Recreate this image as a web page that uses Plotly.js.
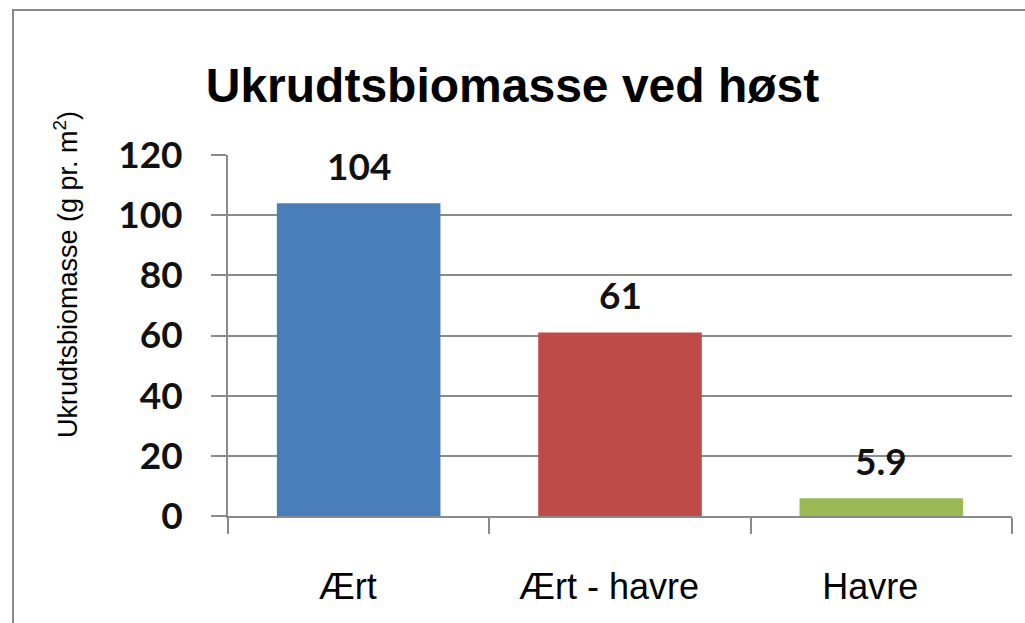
<!DOCTYPE html>
<html>
<head>
<meta charset="utf-8">
<script src="https://cdn.plot.ly/plotly-3.0.1.min.js"></script>
<style>
html,body{margin:0;padding:0;background:#fff;}
#wrap{position:relative;width:1025px;height:623px;}
#chart{position:absolute;left:0;top:0;width:1025px;height:623px;}
#frame{position:absolute;left:12px;top:9px;width:1030px;height:640px;border-left:2px solid #8a8a8a;border-top:2px solid #8a8a8a;pointer-events:none;}
</style>
</head>
<body>
<div id="wrap"><div id="chart"></div><div id="frame"></div></div>
<script>
const categories = ["Ært", "Ært - havre", "Havre"];
const values = [104, 61, 5.9];
const valueLabels = ["104", "61", "5.9"];
const barColors = ["#4A7EBB", "#BE4B48", "#98B954"];
const yTickVals = [0, 20, 40, 60, 80, 100, 120];
const yTitleText = "Ukrudtsbiomasse (g pr. m<sup>2</sup>)";

const trace = {
  type: "bar",
  x: categories,
  y: values,
  marker: {color: barColors},
  hoverinfo: "none"
};

const annotations = categories.map((c, i) => ({
  x: c, y: values[i], xref: "x", yref: "y",
  text: valueLabels[i], showarrow: false,
  yanchor: "bottom", yshift: 13,
  font: {family: "Lato, 'Open Sans', sans-serif", size: 37, color: "#111", weight: "bold"}
}));

// y axis title as an annotation (positioned like the reference, above plot centre)
annotations.push({
  text: yTitleText, showarrow: false, textangle: -90,
  xref: "paper", yref: "paper",
  x: (66 - 228) / 784, y: (516 - 275) / 361,
  xanchor: "center", yanchor: "middle",
  font: {family: "Liberation Sans, Arial, sans-serif", size: 27, color: "#000"}
});

const layout = {
  width: 1025, height: 623,
  paper_bgcolor: "rgba(0,0,0,0)", plot_bgcolor: "#fff",
  margin: {l: 228, r: 13, t: 155, b: 107},
  showlegend: false,
  bargap: 0.374,
  title: {
    text: "<b>Ukrudtsbiomasse ved høst</b>",
    font: {family: "Liberation Sans, Arial, sans-serif", size: 48, color: "#000"},
    x: 0.5, xref: "container", xanchor: "center",
    y: 1 - 85/623, yref: "container", yanchor: "middle"
  },
  xaxis: {
    type: "category",
    showgrid: false,
    showline: true, linecolor: "#8a8a8a", linewidth: 2,
    ticks: "outside", tickson: "boundaries", ticklen: 16, tickwidth: 2, tickcolor: "#8a8a8a",
    ticklabelstandoff: 38,
    ticklabelshift: -11,
    tickfont: {family: "Liberation Sans, Arial, sans-serif", size: 36, color: "#000"},
    fixedrange: true
  },
  yaxis: {
    range: [0, 120],
    tickvals: yTickVals,
    ticktext: yTickVals.map(String),
    showgrid: true, gridcolor: "#8a8a8a", gridwidth: 2,
    showline: true, linecolor: "#8a8a8a", linewidth: 2,
    zeroline: false,
    ticks: "outside", ticklen: 15, tickwidth: 2, tickcolor: "#8a8a8a",
    ticklabelstandoff: 21,
    tickfont: {family: "Lato, 'Open Sans', sans-serif", size: 37, color: "#111", weight: "bold"},
    fixedrange: true
  },
  annotations: annotations
};

Plotly.newPlot("chart", [trace], layout, {staticPlot: true, displayModeBar: false});
</script>
</body>
</html>
